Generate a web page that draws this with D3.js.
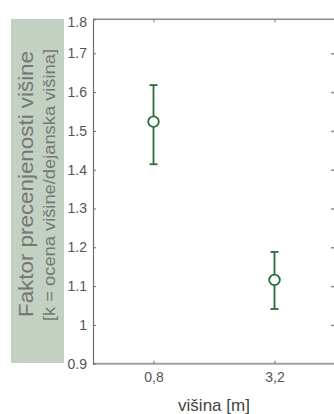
<!DOCTYPE html>
<html><head><meta charset="utf-8">
<script src="https://cdn.jsdelivr.net/npm/d3@7"></script>
<style>body{margin:0;background:#fff}svg{display:block}text{font-family:"Liberation Sans",Arial,sans-serif}</style>
</head><body><svg id="c" width="334" height="414"></svg>
<script>
const categories = ["0,8", "3,2"];
const means = [1.524, 1.116];
const upper = [1.618, 1.188];
const lower = [1.414, 1.041];
const yTicks = [0.9, 1.0, 1.1, 1.2, 1.3, 1.4, 1.5, 1.6, 1.7, 1.8];
const yTickLabels = ["0.9", "1", "1.1", "1.2", "1.3", "1.4", "1.5", "1.6", "1.7", "1.8"];
const yLabel1 = "Faktor precenjenosti višine";
const yLabel2 = "[k = ocena višine/dejanska višina]";
const xLabel = "višina [m]";

const svg = d3.select("#c");
const L = 93, R = 335, T = 19.3, B = 363.7;
const x = d3.scalePoint().domain(categories).range([L, R]).padding(0.5);
const y = d3.scaleLinear().domain([0.9, 1.7876]).range([B, T]).clamp(true);

svg.append("rect").attr("x", 11).attr("y", 19).attr("width", 53).attr("height", 344).attr("fill", "#c2d1c1");
svg.append("text").attr("transform", "translate(33,184) rotate(-90)").attr("text-anchor", "middle")
  .attr("font-size", 21).attr("fill", "#767676").attr("textLength", 266).attr("lengthAdjust", "spacingAndGlyphs").text(yLabel1);
svg.append("text").attr("transform", "translate(55,185) rotate(-90)").attr("text-anchor", "middle")
  .attr("font-size", 16).attr("fill", "#767676").attr("textLength", 272).attr("lengthAdjust", "spacingAndGlyphs").text(yLabel2);

svg.append("line").attr("x1", L).attr("x2", 334).attr("y1", T).attr("y2", T).attr("stroke", "#8c8c8c").attr("stroke-width", 1.5);
svg.append("line").attr("x1", L).attr("x2", 334).attr("y1", B).attr("y2", B).attr("stroke", "#a0a0a0").attr("stroke-width", 2);

const ya = svg.append("g").attr("transform", `translate(${L},0)`)
  .call(d3.axisLeft(y).tickValues(yTicks).tickSizeInner(-3).tickSizeOuter(0).tickPadding(6)
    .tickFormat((d, i) => yTickLabels[i]));
ya.select(".domain").attr("stroke", "#6e6e6e").attr("stroke-width", 1.2);
ya.selectAll(".tick line").attr("stroke", "#6e6e6e");
ya.selectAll(".tick text").attr("font-size", 14).attr("fill", "#555").attr("font-family", "Liberation Sans, Arial, sans-serif");
ya.selectAll(".tick").filter(d => d === 1.8).select("text").attr("dy", "0.5em");

const yr = svg.append("g").attr("transform", `translate(334,0)`)
  .call(d3.axisRight(y).tickValues(yTicks.slice(1, 9)).tickSizeInner(-3).tickSizeOuter(0).tickFormat(""));
yr.select(".domain").remove();
yr.selectAll(".tick line").attr("stroke", "#8c8c8c").attr("stroke-width", 1.5);

const xa = svg.append("g").attr("transform", `translate(0,${B})`)
  .call(d3.axisBottom(x).tickSizeInner(-3).tickSizeOuter(0).tickPadding(8));
xa.select(".domain").remove();
xa.selectAll(".tick line").attr("stroke", "#777");
xa.selectAll(".tick text").attr("font-size", 14).attr("fill", "#555").attr("font-family", "Liberation Sans, Arial, sans-serif");

const xt = svg.append("g").attr("transform", `translate(0,${T})`)
  .call(d3.axisTop(x).tickSizeInner(-3).tickSizeOuter(0).tickFormat(""));
xt.select(".domain").remove();
xt.selectAll(".tick line").attr("stroke", "#777");

svg.append("text").attr("x", 214).attr("y", 411).attr("text-anchor", "middle")
  .attr("font-size", 17).attr("fill", "#444").text(xLabel);

const col = "#2a6b3c";
const g = svg.append("g");
categories.forEach((c, i) => {
  const cx = x(c);
  g.append("line").attr("x1", cx).attr("x2", cx).attr("y1", y(upper[i])).attr("y2", y(lower[i])).attr("stroke", col).attr("stroke-width", 1.8);
  [upper[i], lower[i]].forEach(v => g.append("line").attr("x1", cx - 4).attr("x2", cx + 4).attr("y1", y(v)).attr("y2", y(v)).attr("stroke", col).attr("stroke-width", 1.8));
  g.append("circle").attr("cx", cx).attr("cy", y(means[i])).attr("r", 5.3).attr("fill", "#fff").attr("stroke", col).attr("stroke-width", 1.8);
});
</script></body></html>
